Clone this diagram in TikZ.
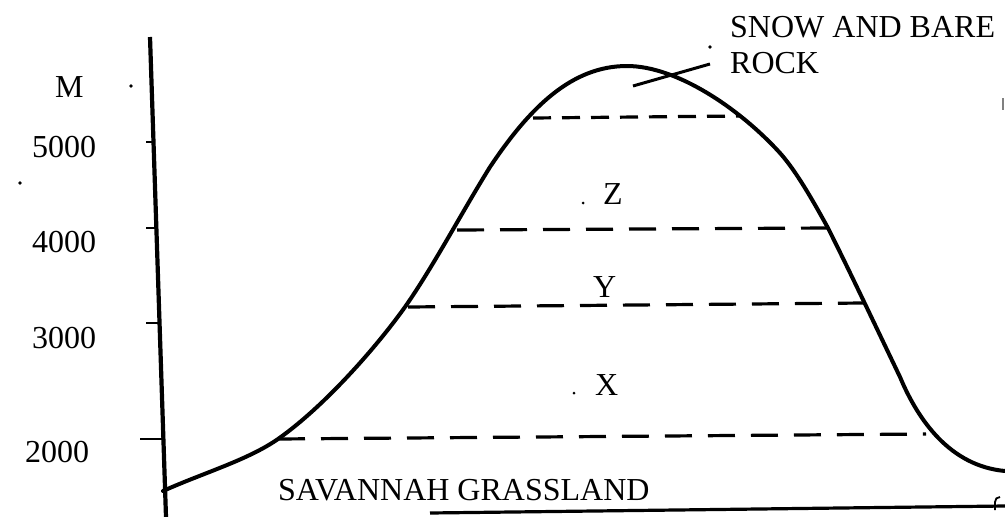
\documentclass[tikz,border=0pt]{standalone}
\usepackage{fontspec}
\setmainfont{Liberation Serif}
\begin{document}
\begin{tikzpicture}[x=1pt,y=-1pt,
  lbl/.style={inner sep=0pt, anchor=base west, font=\fontsize{32}{36}\selectfont},
  ridge/.style={line width=4pt, line cap=round, line join=round},
  axisline/.style={line width=4.2pt},
  tickline/.style={line width=2.8pt},
  zone/.style={line width=3.2pt, dash pattern=on 27pt off 16pt},
  topzone/.style={line width=3.2pt, dash pattern=on 18pt off 11pt},
  leader/.style={line width=3pt},
  speck/.style={fill=black, draw=none}]
\useasboundingbox (0,0) rectangle (1005,517);

% vertical axis and ticks
\coordinate (atop) at (150,37);
\coordinate (abot) at (166,517);
\draw[axisline] (atop) -- (abot);
\coordinate (t5a) at (146,142); \coordinate (t5b) at (154,142);
\coordinate (t4a) at (146,228); \coordinate (t4b) at (156,228);
\coordinate (t3a) at (146,323); \coordinate (t3b) at (159,323);
\coordinate (t2a) at (140,439); \coordinate (t2b) at (164,439);
\draw[tickline] (t5a) -- (t5b);
\draw[tickline] (t4a) -- (t4b);
\draw[tickline] (t3a) -- (t3b);
\draw[tickline] (t2a) -- (t2b);

% axis labels
\node[lbl] (m) at (55,97) {M};
\node[lbl] (l5) at (32,157) {5000};
\node[lbl] (l4) at (32,252) {4000};
\node[lbl] (l3) at (32,348) {3000};
\node[lbl] (l2) at (25,462) {2000};

% mountain profile
\draw[ridge] (163,491)
  .. controls (203,473) and (248,460) .. (278,439)
  .. controls (323,407.5) and (375,349) .. (405,307)
  .. controls (433,267) and (462,212) .. (490,167)
  .. controls (530,107) and (572,66) .. (627,66)
  .. controls (677,66) and (740,109) .. (780,153)
  .. controls (796,171) and (812,199) .. (828,228)
  .. controls (852,276) and (876,327) .. (900,377)
  .. controls (918,420) and (950,466) .. (1005,471);

% ground line
\coordinate (g1) at (430,513);
\coordinate (g2) at (1005,506);
\draw[line width=3.2pt] (g1) -- (g2);

% zone boundaries
\coordinate (b5L) at (533,118); \coordinate (b5R) at (740,116);
\coordinate (b4L) at (457,230); \coordinate (b4R) at (828,228);
\coordinate (b3L) at (408,307); \coordinate (b3R) at (864,303);
\coordinate (b2L) at (278,439); \coordinate (b2R) at (926,434);
\draw[topzone] (b5L) -- (b5R);
\draw[zone] (b4L) -- (b4R);
\draw[zone] (b3L) -- (b3R);
\draw[zone] (b2L) -- (b2R);

% zone labels
\node[lbl] (z) at (603,204) {Z};
\node[lbl] (y) at (593,297) {Y};
\node[lbl] (x) at (595,395) {X};
\node[lbl] (sav) at (278,500) {SAVANNAH GRASSLAND};
\node[lbl] (snow) at (730,37) {SNOW AND BARE};
\node[lbl] (rock) at (730,73) {ROCK};

% leader line
\coordinate (lead) at (710,64);
\coordinate (tip) at (633,86);
\draw[leader] (lead) -- (tip);

% scan specks
\fill[speck] (131,86) circle (1.8);
\fill[speck] (20,183) circle (1.8);
\fill[speck] (710,47) circle (1.8);
\fill[speck] (583,203) circle (1.5);
\fill[speck] (574,393) circle (1.5);
\draw[line width=1.8pt] (995,510) -- (995,502) .. controls (995,499) and (997,497) .. (1000,497);
\draw[line width=1.2pt, gray] (1003,98) -- (1003,110);
\end{tikzpicture}
\end{document}
